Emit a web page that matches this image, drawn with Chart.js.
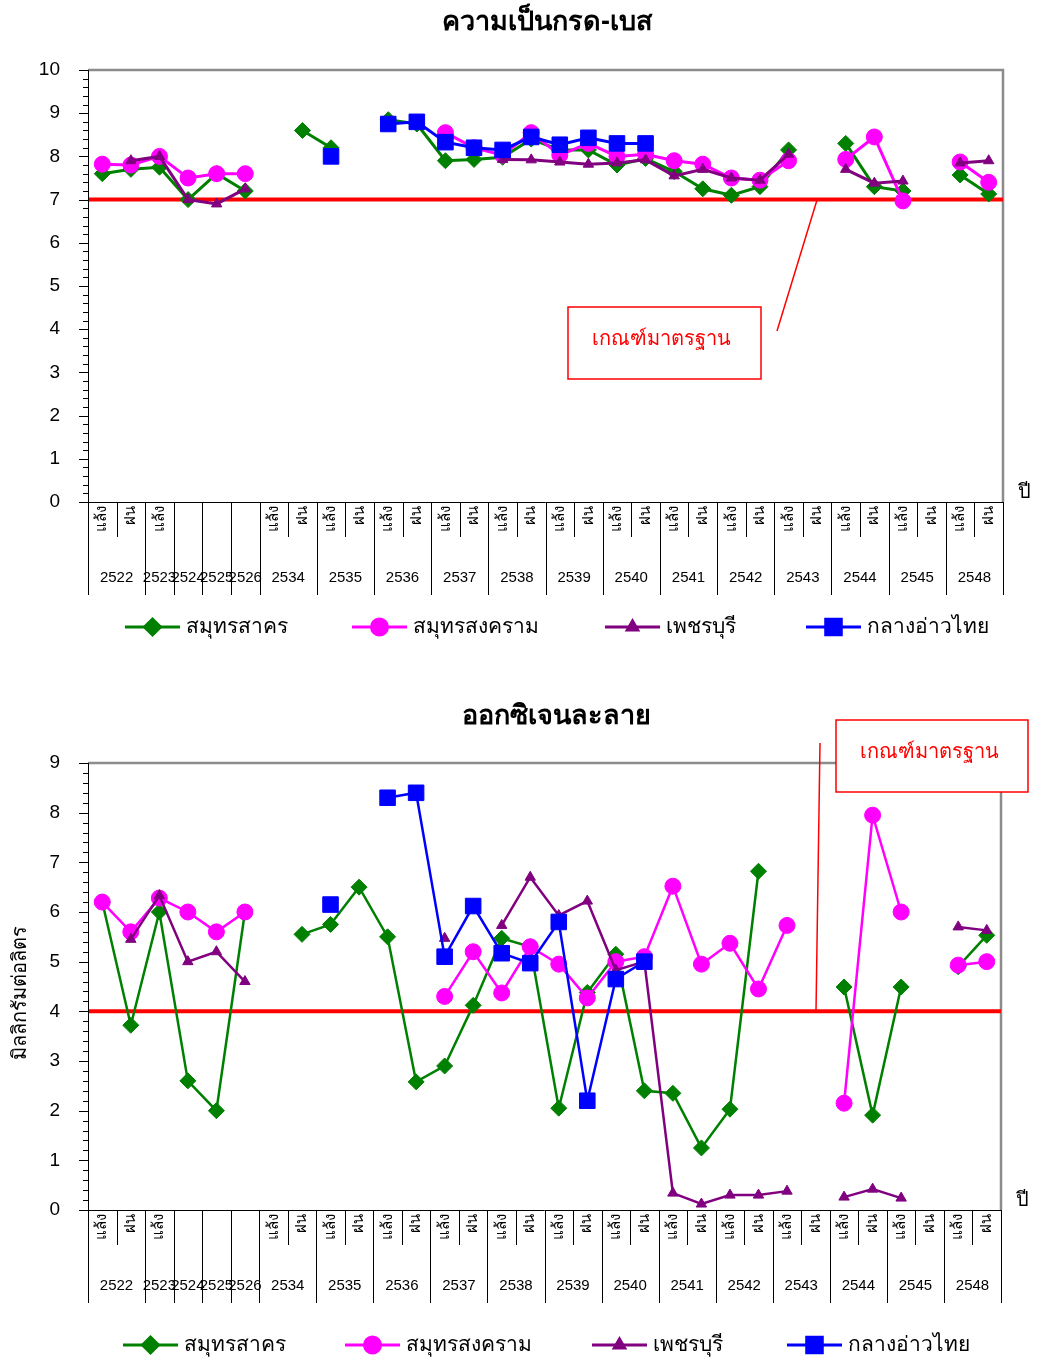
<!DOCTYPE html>
<html lang="th">
<head>
<meta charset="utf-8">
<title>ความเป็นกรด-เบส / ออกซิเจนละลาย</title>
<script src="https://cdn.jsdelivr.net/npm/chart.js@4.4.1/dist/chart.umd.min.js"></script>
<style>
  html, body { margin: 0; padding: 0; background: #fff; }
  body { width: 1040px; height: 1361px; position: relative; overflow: hidden; }
  canvas { position: absolute; left: 0; }
  #phChart { top: 0; }
  #doChart { top: 680px; }
</style>
</head>
<body>
<canvas id="phChart" width="1040" height="680"></canvas>
<canvas id="doChart" width="1040" height="681"></canvas>
<script>
// ==== DATA ====
// x axis: season slots, grouped by year
const SEASONS = ["แล้ง", "ฝน", "แล้ง", "", "", "", "แล้ง", "ฝน", "แล้ง", "ฝน", "แล้ง", "ฝน",
  "แล้ง", "ฝน", "แล้ง", "ฝน", "แล้ง", "ฝน", "แล้ง", "ฝน", "แล้ง", "ฝน", "แล้ง", "ฝน",
  "แล้ง", "ฝน", "แล้ง", "ฝน", "แล้ง", "ฝน", "แล้ง", "ฝน"];
const YEARS = ["2522", "2523", "2524", "2525", "2526", "2534", "2535", "2536", "2537",
  "2538", "2539", "2540", "2541", "2542", "2543", "2544", "2545", "2548"];
const YEAR_SPANS = [2, 1, 1, 1, 1, 2, 2, 2, 2, 2, 2, 2, 2, 2, 2, 2, 2, 2];

const SERIES_NAMES = ["สมุทรสาคร", "สมุทรสงคราม", "เพชรบุรี", "กลางอ่าวไทย"];

// ความเป็นกรด-เบส (pH)
const PH_SAMUT_SAKHON = [7.6, 7.7, 7.75, 7.0, 7.6, 7.2, null, 8.6, 8.2, null, 8.85, 8.75,
  7.9, 7.93, 7.98, 8.4, 8.15, 8.15, 7.8, 7.95, 7.65, 7.25, 7.1, 7.3, 8.15, null, 8.3, 7.3,
  7.2, null, 7.57, 7.13];
const PH_SAMUT_SONGKHRAM = [7.82, 7.8, 8.0, 7.5, 7.6, 7.6, null, null, null, null, null, null,
  8.55, 8.2, 8.03, 8.55, 8.03, 8.3, 8.0, 8.05, 7.9, 7.82, 7.5, 7.45, 7.9, null, 7.93, 8.45,
  6.97, null, 7.87, 7.4];
const PH_PHETCHABURI = [null, 7.9, 8.0, 7.0, 6.9, 7.25, null, null, null, null, null, null,
  null, null, 7.93, 7.92, 7.87, 7.82, 7.85, 7.92, 7.55, 7.7, 7.5, 7.45, 8.05, null, 7.7, 7.38,
  7.43, null, 7.85, 7.9];
const PH_GULF = [null, null, null, null, null, null, null, null, 8.0, null, 8.75, 8.8,
  8.33, 8.2, 8.15, 8.45, 8.27, 8.43, 8.3, 8.3, null, null, null, null, null, null, null, null,
  null, null, null, null];
const PH_STANDARD = 7;
const PH_Y_MAX = 10;

// ออกซิเจนละลาย (มก./ล.)
const DO_SAMUT_SAKHON = [6.2, 3.72, 6.0, 2.6, 2.0, 6.0, null, 5.55, 5.75, 6.5, 5.5, 2.58,
  2.9, 4.12, 5.47, 5.3, 2.05, 4.38, 5.15, 2.4, 2.35, 1.25, 2.03, 6.82, null, null, 4.49, 1.91,
  4.49, null, 4.9, 5.53];
const DO_SAMUT_SONGKHRAM = [6.2, 5.6, 6.28, 6.0, 5.6, 6.0, null, null, null, null, null, null,
  4.3, 5.2, 4.37, 5.3, 4.95, 4.27, 5.0, 5.1, 6.52, 4.95, 5.37, 4.45, 5.73, null, 2.15, 7.95,
  6.0, null, 4.93, 5.0];
const DO_PHETCHABURI = [null, 5.45, 6.33, 5.0, 5.2, 4.6, null, null, null, null, null, null,
  5.47, null, 5.73, 6.7, 5.93, 6.22, 4.83, 5.0, 0.34, 0.12, 0.3, 0.3, 0.38, null, 0.26, 0.42,
  0.24, null, 5.7, 5.63];
const DO_GULF = [null, null, null, null, null, null, null, null, 6.15, null, 8.3, 8.4,
  5.1, 6.12, 5.17, 4.97, 5.8, 2.2, 4.65, 5.0, null, null, null, null, null, null, null, null,
  null, null, null, null];
const DO_STANDARD = 4;
const DO_Y_MAX = 9;

// ==== STYLE ====
const FONT = "'Liberation Sans', Arial, 'Noto Sans', sans-serif";
const COLORS = ["#008000", "#ff00ff", "#800080", "#0000ff"];
const POINT_STYLES = ["rectRot", "circle", "triangle", "rect"];
const POINT_SIZES = [8, 8, 6, 11];
const DRAW_ORDER = [4, 3, 2, 1]; // blue on top, green at the bottom

function line(ctx, x1, y1, x2, y2) {
  ctx.beginPath();
  ctx.moveTo(x1, y1);
  ctx.lineTo(x2, y2);
  ctx.stroke();
}

// excel-like frame, standard line, two-level category axis, legend, notes
const excelLook = {
  id: "excelLook",
  beforeDatasetsDraw(chart, args, o) {
    const { ctx, chartArea: a } = chart;
    const y = chart.scales.y;
    ctx.save();
    ctx.strokeStyle = "#8c8c8c";
    ctx.lineWidth = 2.5;
    ctx.beginPath();
    ctx.moveTo(a.left, a.top);
    ctx.lineTo(a.right, a.top);
    ctx.lineTo(a.right, a.bottom);
    ctx.stroke();

    const sy = y.getPixelForValue(o.standard);
    ctx.strokeStyle = "#ff0000";
    ctx.lineWidth = 4;
    line(ctx, a.left, sy, a.right, sy);
    ctx.restore();
  },
  afterDraw(chart, args, o) {
    const { ctx, chartArea: a } = chart;
    const x = chart.scales.x;
    const y = chart.scales.y;
    ctx.save();
    ctx.strokeStyle = "#000";
    ctx.lineWidth = 1;

    // y axis with minor ticks every 0.2
    line(ctx, a.left + 0.5, a.top, a.left + 0.5, a.bottom);
    const steps = Math.round(o.yMax / 0.2);
    for (let k = 0; k <= steps; k++) {
      const py = Math.round(y.getPixelForValue(k * 0.2)) + 0.5;
      const len = k % 5 === 0 ? 9 : 5;
      line(ctx, a.left - len, py, a.left, py);
    }

    // category axis
    line(ctx, a.left, a.bottom + 0.5, a.right, a.bottom + 0.5);
    const half = (x.getPixelForValue(1) - x.getPixelForValue(0)) / 2;
    const groupEdges = new Set([0]);
    let acc = 0;
    YEAR_SPANS.forEach((s) => { acc += s; groupEdges.add(acc); });
    for (let k = 0; k <= SEASONS.length; k++) {
      const px = Math.round(x.getPixelForValue(k) - half) + 0.5;
      line(ctx, px, a.bottom, px, a.bottom + (groupEdges.has(k) ? 93 : 35));
    }

    ctx.fillStyle = "#000";
    ctx.font = `15px ${FONT}`;
    SEASONS.forEach((s, i) => {
      if (!s) return;
      ctx.save();
      ctx.translate(x.getPixelForValue(i), a.bottom + 4);
      ctx.rotate(-Math.PI / 2);
      ctx.textAlign = "right";
      ctx.textBaseline = "middle";
      ctx.fillText(s, 0, 0);
      ctx.restore();
    });

    ctx.font = `15px ${FONT}`;
    ctx.textAlign = "center";
    ctx.textBaseline = "middle";
    let start = 0;
    YEARS.forEach((yr, g) => {
      const span = YEAR_SPANS[g];
      const cx = (x.getPixelForValue(start) + x.getPixelForValue(start + span - 1)) / 2;
      ctx.fillText(yr, cx, a.bottom + 76);
      start += span;
    });

    // "ปี" at the end of the x axis
    ctx.font = `20px ${FONT}`;
    ctx.fillText("ปี", a.right + 21, a.bottom - 10);

    // title
    ctx.font = `bold 27px ${FONT}`;
    ctx.fillText(o.title, o.titleX, o.titleY);

    // y axis title
    if (o.yTitle) {
      ctx.save();
      ctx.translate(20, (a.top + a.bottom) / 2 + 6);
      ctx.rotate(-Math.PI / 2);
      ctx.font = `20px ${FONT}`;
      ctx.fillText(o.yTitle, 0, 0);
      ctx.restore();
    }

    // legend: line + marker + name
    ctx.font = `21px ${FONT}`;
    ctx.textAlign = "left";
    chart.data.datasets.forEach((ds, i) => {
      const lx = o.legendX[i];
      const ly = o.legendY;
      ctx.strokeStyle = ds.borderColor;
      ctx.fillStyle = ds.borderColor;
      ctx.lineWidth = 3;
      line(ctx, lx, ly, lx + 55, ly);
      Chart.helpers.drawPoint(ctx, {
        pointStyle: ds.pointStyle, radius: ds.pointRadius, borderWidth: 1, rotation: 0,
      }, lx + 27.5, ly);
      ctx.fillStyle = "#000";
      ctx.fillText(ds.label, lx + 61, ly);
    });

    // standard note box + pointer
    const n = o.note;
    ctx.fillStyle = "#fff";
    ctx.fillRect(n.x, n.y, n.w, n.h);
    ctx.strokeStyle = "#ff0000";
    ctx.lineWidth = 1.5;
    ctx.strokeRect(n.x, n.y, n.w, n.h);
    line(ctx, n.from[0], n.from[1], n.to[0], n.to[1]);
    ctx.fillStyle = "#ff0000";
    ctx.font = `20px ${FONT}`;
    ctx.textAlign = "center";
    ctx.fillText("เกณฑ์มาตรฐาน", n.x + n.w / 2 - 3, n.y + n.h / 2 - 4);
    ctx.restore();
  },
};

function buildChart(canvasId, series, opts) {
  const canvas = document.getElementById(canvasId);
  const labels = SEASONS.map((s, i) => i);
  const datasets = series.map((data, i) => ({
    label: SERIES_NAMES[i],
    data: data,
    borderColor: COLORS[i],
    backgroundColor: COLORS[i],
    pointBackgroundColor: COLORS[i],
    pointBorderColor: COLORS[i],
    pointStyle: POINT_STYLES[i],
    pointRadius: POINT_SIZES[i],
    pointBorderWidth: 1,
    borderWidth: opts.lineWidth,
    tension: 0,
    spanGaps: false,
    order: DRAW_ORDER[i],
  }));

  return new Chart(canvas, {
    type: "line",
    data: { labels: labels, datasets: datasets },
    options: {
      responsive: false,
      animation: false,
      devicePixelRatio: 1,
      layout: {
        padding: {
          top: opts.plotTop,
          bottom: canvas.height - opts.plotBottom,
          left: 0,
          right: canvas.width - opts.plotRight,
        },
      },
      plugins: {
        legend: { display: false },
        tooltip: { enabled: false },
        excelLook: opts,
      },
      scales: {
        x: { type: "category", offset: true, display: false },
        y: {
          min: 0,
          max: opts.yMax,
          grid: { display: false },
          border: { display: false },
          ticks: {
            stepSize: 1,
            padding: 20,
            color: "#000",
            font: { family: FONT, size: 19 },
          },
          afterFit: (scale) => { scale.width = 88; },
        },
      },
    },
    plugins: [excelLook],
  });
}

// 1. ความเป็นกรด-เบส
buildChart("phChart", [PH_SAMUT_SAKHON, PH_SAMUT_SONGKHRAM, PH_PHETCHABURI, PH_GULF], {
  title: "ความเป็นกรด-เบส",
  titleX: 547, titleY: 23,
  yMax: PH_Y_MAX,
  standard: PH_STANDARD,
  plotTop: 70, plotBottom: 502, plotRight: 1003,
  lineWidth: 3,
  legendX: [125, 352, 605, 806],
  legendY: 627,
  note: { x: 568, y: 307, w: 193, h: 72, from: [777, 331], to: [817, 200] },
});

// 2. ออกซิเจนละลาย
buildChart("doChart", [DO_SAMUT_SAKHON, DO_SAMUT_SONGKHRAM, DO_PHETCHABURI, DO_GULF], {
  title: "ออกซิเจนละลาย",
  titleX: 556, titleY: 37,
  yTitle: "มิลลิกรัมต่อลิตร",
  yMax: DO_Y_MAX,
  standard: DO_STANDARD,
  plotTop: 83, plotBottom: 530, plotRight: 1001,
  lineWidth: 2.5,
  legendX: [123, 345, 592, 787],
  legendY: 665,
  note: { x: 836, y: 40, w: 192, h: 72, from: [820, 63], to: [816, 331] },
});
</script>
</body>
</html>
